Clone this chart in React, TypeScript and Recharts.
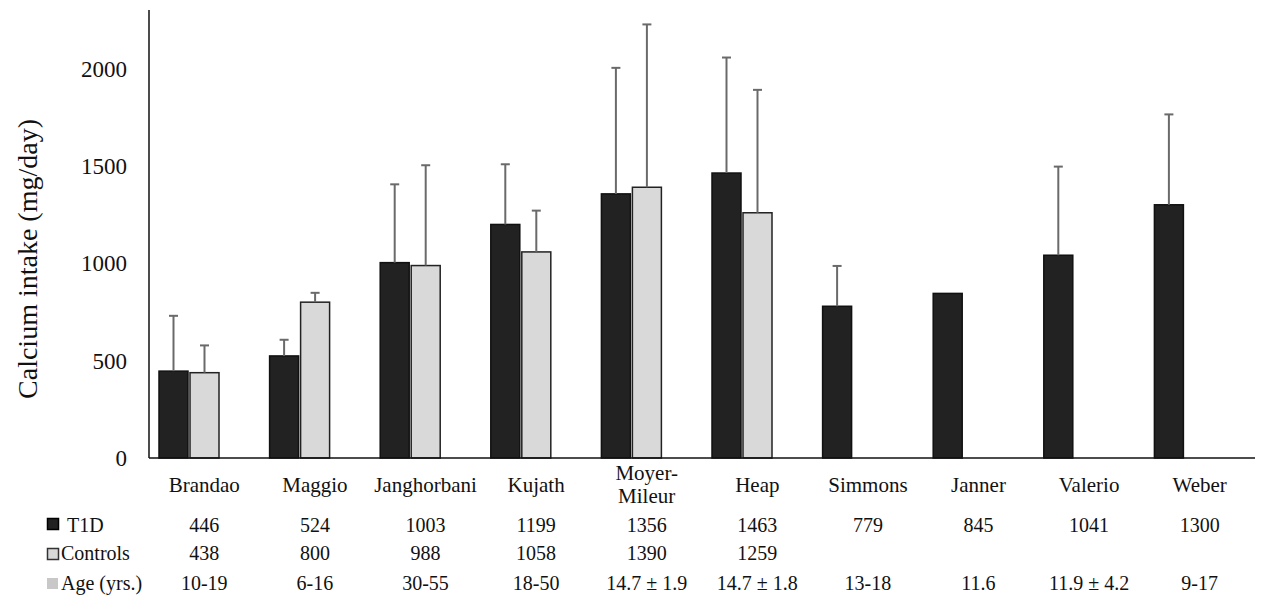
import React from "react";
import { BarChart, Bar, XAxis, YAxis } from "recharts";

const studies = ["Brandao", "Maggio", "Janghorbani", "Kujath", "Moyer-Mileur", "Heap", "Simmons", "Janner", "Valerio", "Weber"];
const t1d = [446, 524, 1003, 1199, 1356, 1463, 779, 845, 1041, 1300];
const controls = [438, 800, 988, 1058, 1390, 1259, null, null, null, null];
const t1dSd = [284, 83, 402, 309, 647, 593, 207, null, 455, 464];
const controlsSd = [140, 48, 515, 212, 836, 631, null, null, null, null];
const ages = ["10-19", "6-16", "30-55", "18-50", "14.7 ± 1.9", "14.7 ± 1.8", "13-18", "11.6", "11.9 ± 4.2", "9-17"];
const yTicks = [0, 500, 1000, 1500, 2000];

const data = studies.map((name, i) => ({
  name,
  t1d: t1d[i],
  controls: controls[i],
  t1dSd: t1dSd[i],
  controlsSd: controlsSd[i],
}));

const FONT = '"Liberation Serif", "Times New Roman", serif';

// bar + upper error whisker; pixels per unit taken from the bar's own height
const barWithError = (valueKey: string, sdKey: string, fill: string, stroke: string) => (props: any) => {
  const { x, y, width, height, payload } = props;
  const v = payload[valueKey];
  if (v == null || !height) return <g />;
  const sd = payload[sdKey];
  const cx = x + width / 2;
  const top = sd == null ? y : y - (sd * height) / v;
  return (
    <g>
      <rect x={x} y={y} width={width} height={height} fill={fill} stroke={stroke} strokeWidth={1.5} />
      {sd != null && (
        <g stroke="#6a6a6a" strokeWidth={2}>
          <line x1={cx} y1={y} x2={cx} y2={top} />
          <line x1={cx - 4.5} y1={top} x2={cx + 4.5} y2={top} />
        </g>
      )}
    </g>
  );
};

const CategoryTick = (props: any) => {
  const { x, y, index } = props;
  const name = studies[index];
  const parts = name === "Moyer-Mileur" ? ["Moyer-", "Mileur"] : [name];
  const ts = { fontFamily: FONT, fill: "#111", textAnchor: "middle" as const };
  return (
    <g>
      {parts.length === 1 ? (
        <text x={x} y={y + 34} fontSize={21} {...ts}>{parts[0]}</text>
      ) : (
        <>
          <text x={x} y={y + 22} fontSize={21} {...ts}>{parts[0]}</text>
          <text x={x} y={y + 45} fontSize={21} {...ts}>{parts[1]}</text>
        </>
      )}
      <text x={x} y={y + 74} fontSize={20} {...ts}>{t1d[index]}</text>
      <text x={x} y={y + 102} fontSize={20} {...ts}>{controls[index] ?? ""}</text>
      <text x={x} y={y + 132} fontSize={20} {...ts}>{ages[index]}</text>
    </g>
  );
};

export default function App() {
  return (
    <div style={{ position: "absolute", left: 0, top: 0, width: 1261, height: 597, background: "#fff" }}>
      <BarChart
        width={1261}
        height={597}
        data={data}
        margin={{ top: 10, right: 6, left: 0, bottom: 0 }}
        barGap={2}
        barCategoryGap={10}
      >
        <XAxis
          dataKey="name"
          height={139}
          tickLine={false}
          tickSize={0}
          tickMargin={0}
          interval={0}
          axisLine={{ stroke: "#111", strokeWidth: 1.5 }}
          tick={<CategoryTick />}
        />
        <YAxis
          width={149}
          domain={[0, 2300]}
          ticks={yTicks}
          tickLine={false}
          tickSize={0}
          tickMargin={22}
          axisLine={{ stroke: "#111", strokeWidth: 1.5 }}
          tick={{ fontFamily: FONT, fontSize: 23, fill: "#111" }}
          label={{
            content: () => (
              <text
                x={27}
                y={259}
                transform="rotate(-90 27 259)"
                textAnchor="middle"
                dominantBaseline="central"
                fontFamily={FONT}
                fontSize={28}
                fill="#111"
              >
                Calcium intake (mg/day)
              </text>
            ),
          }}
        />
        <Bar dataKey="t1d" name="T1D" fill="#222" isAnimationActive={false} shape={barWithError("t1d", "t1dSd", "#222", "#111")} />
        <Bar dataKey="controls" name="Controls" fill="#d9d9d9" isAnimationActive={false} shape={barWithError("controls", "controlsSd", "#d9d9d9", "#222")} />
        <Bar dataKey="ageBar" name="Age (yrs.)" fill="#c8c8c8" isAnimationActive={false} />
      </BarChart>
      <svg width={160} height={100} style={{ position: "absolute", left: 0, top: 500 }}>
        <rect x={47.5} y={18.5} width={11} height={11} fill="#222" stroke="#000" strokeWidth={1.5} />
        <text x={67} y={32} fontFamily={FONT} fontSize={20} fill="#111">T1D</text>
        <rect x={47.5} y={48.5} width={11} height={11} fill="#d9d9d9" stroke="#333" strokeWidth={1.5} />
        <text x={61} y={60} fontFamily={FONT} fontSize={20} fill="#111">Controls</text>
        <rect x={47} y={78} width={11} height={11} fill="#c8c8c8" />
        <text x={61} y={90} fontFamily={FONT} fontSize={20} fill="#111">Age (yrs.)</text>
      </svg>
    </div>
  );
}
